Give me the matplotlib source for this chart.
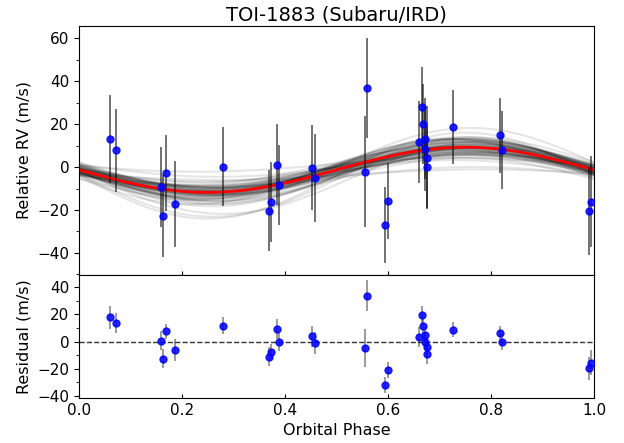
import numpy as np
import matplotlib
matplotlib.use("Agg")
import matplotlib.pyplot as plt
from matplotlib.ticker import MultipleLocator


# orbital phase of each Subaru/IRD point
phase = [0.061, 0.071, 0.159, 0.164, 0.169, 0.186, 0.280, 0.368, 0.372, 0.384,
         0.388, 0.453, 0.458, 0.555, 0.560, 0.595, 0.599, 0.661, 0.666, 0.667,
         0.671, 0.671, 0.675, 0.676, 0.726, 0.818, 0.822, 0.991, 0.995]

# relative RV (m/s) and error incl. jitter
rv = [12.9, 7.8, -9.3, -22.9, -2.9, -17.0, 0.2, -20.3, -16.3, 1.1,
      -8.5, -0.3, -5.1, -2.2, 36.9, -26.8, -15.7, 11.6, 27.8, 20.0,
      13.2, 8.5, 4.3, 0.0, 18.5, 14.7, 8.1, -20.3, -16.1]
rv_err = [20.5, 19.2, 18.7, 19.0, 17.6, 20.0, 18.5, 19.0, 18.7, 19.0,
          18.6, 19.7, 20.6, 25.8, 23.3, 17.7, 17.7, 19.2, 18.9, 18.6,
          19.0, 19.5, 24.0, 19.0, 17.3, 17.6, 18.1, 20.5, 21.0]

# residuals (m/s) and instrumental errors
resid = [17.9, 13.5, 0.7, -12.5, 7.6, -6.1, 11.8, -11.2, -7.6, 9.3,
         -0.5, 4.0, -1.0, -4.6, 33.8, -31.6, -20.8, 3.5, 19.6, 11.8,
         4.7, 0.0, -4.1, -8.8, 8.8, 6.2, -0.2, -19.8, -15.4]
resid_err = [8.6, 7.4, 7.0, 7.0, 5.5, 8.0, 6.5, 7.1, 6.0, 7.6,
             6.7, 7.8, 8.3, 14.0, 11.4, 5.9, 6.0, 7.4, 6.7, 6.5,
             6.0, 6.5, 7.0, 8.0, 5.5, 5.5, 6.1, 8.7, 9.4]

# best fit (red)
K_best = 10.5
gamma_best = -1.3

# posterior draws (gray): semi-amplitude, offset, phase shift
K_samp = [10.2, 8.7, 12.5, 11.1, 6.3, 9.8, 14.2, 10.9, 7.5, 13.1,
          11.8, 9.1, 15.6, 10.4, 8.2, 12.0, 5.1, 11.5, 9.6, 13.8,
          10.7, 7.9, 12.9, 16.8, 9.3, 11.2, 6.9, 10.0, 14.7, 8.8,
          12.3, 10.6, 3.2, 11.7, 9.4, 18.5, 10.1, 13.4, 7.2, 11.9,
          9.9, 12.7, 8.4, 15.1, 10.3, 4.5, 11.4, 9.0, 17.2, 10.8,
          2.5, 13.6, 9.7, 11.0, 6.0, 12.2, 20.0, 8.0, 10.5, 14.0]
gamma_samp = [-1.0, -2.4, 0.3, -1.8, -0.5, -3.1, -1.2, 0.8, -2.0, -1.5,
              -4.2, -0.9, -2.7, 1.2, -1.6, -0.2, 0.5, -2.9, -1.1, -3.5,
              -0.7, -1.9, 0.1, -5.0, -1.4, -2.2, -0.3, -1.7, -2.5, 0.6,
              -1.3, -3.8, 1.0, -0.8, -2.1, -4.6, -1.0, -0.4, -2.6, -1.5,
              0.9, -3.0, -1.2, -2.3, -0.6, -4.5, -1.8, -3.3, 1.0, -1.6,
              -3.6, 0.2, -5.5, -0.6, -2.8, 1.5, -4.0, -0.5, -2.0, -1.1]
shift_samp = [0.01, -0.02, 0.00, 0.03, -0.01, 0.02, -0.03, 0.01, 0.00, -0.01,
              0.02, -0.02, 0.01, 0.00, 0.03, -0.01, 0.02, 0.00, -0.03, 0.01,
              -0.01, 0.02, 0.00, 0.03, -0.02, 0.01, -0.01, 0.00, 0.02, -0.03,
              0.01, 0.00, -0.02, 0.02, -0.01, 0.01, 0.03, -0.02, 0.00, 0.01,
              -0.01, 0.02, 0.00, -0.03, 0.01, 0.02, -0.01, 0.00, 0.01, -0.02,
              0.03, -0.01, 0.00, 0.02, -0.02, 0.01, 0.00, -0.01, 0.02, 0.00]


def rv_model(ph, K, gamma, shift=0.0):
    return gamma - K * np.sin(2 * np.pi * (ph - shift))


fig = plt.figure(figsize=(6.24, 4.43), dpi=100)
ax1 = fig.add_axes([0.1266, 0.3799, 0.8254, 0.5614])
ax2 = fig.add_axes([0.1266, 0.1023, 0.8254, 0.2776])

ph_grid = np.linspace(0, 1, 300)
for K, g, s in zip(K_samp, gamma_samp, shift_samp):
    ax1.plot(ph_grid, rv_model(ph_grid, K, g, s), color="k", alpha=0.1, lw=1.5)
ax1.plot(ph_grid, rv_model(ph_grid, K_best, gamma_best), color="red", lw=2)

ax1.errorbar(phase, rv, yerr=rv_err, fmt="none", ecolor="k", alpha=0.7, lw=1.1)
ax1.plot(phase, rv, "o", color="blue", ms=5, alpha=0.85, zorder=5)

ax2.errorbar(phase, resid, yerr=resid_err, fmt="none", ecolor="k", alpha=0.5, lw=1.1)
ax2.plot(phase, resid, "o", color="blue", ms=5, alpha=0.85, zorder=5)
ax2.axhline(0, color="k", ls="--", lw=1, alpha=0.8)

ax1.set_xlim(0, 1)
ax2.set_xlim(0, 1)
ax1.set_ylim(-50.1, 65.6)
ax2.set_ylim(-41.3, 49.3)

ax1.yaxis.set_major_locator(MultipleLocator(20))
ax1.yaxis.set_minor_locator(MultipleLocator(10))
ax2.yaxis.set_major_locator(MultipleLocator(20))
ax2.yaxis.set_minor_locator(MultipleLocator(10))
for ax in (ax1, ax2):
    ax.xaxis.set_major_locator(MultipleLocator(0.2))
    ax.tick_params(axis="x", direction="in", length=3, labelsize=11)
    ax.tick_params(axis="y", which="both", direction="out", labelsize=11)
ax1.tick_params(axis="x", labelbottom=False)

ax1.set_title("TOI-1883 (Subaru/IRD)", fontsize=14, pad=4)
ax1.set_ylabel("Relative RV (m/s)", fontsize=11.5)
ax2.set_ylabel("Residual (m/s)", fontsize=11.5)
ax2.set_xlabel("Orbital Phase", fontsize=11.5)

fig.savefig("out.png", dpi=100)
